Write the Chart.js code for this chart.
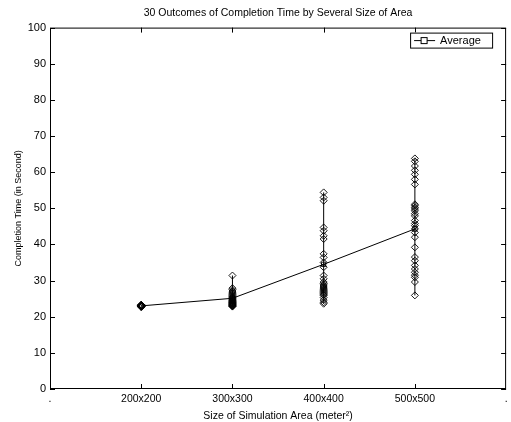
<!DOCTYPE html>
<html>
<head>
<meta charset="utf-8">
<script src="https://cdn.jsdelivr.net/npm/chart.js@4"></script>
<style>
    body { margin: 0; background: #fff; }
    #wrap { width: 511px; height: 422px; }
</style>
</head>
<body>
<div id="wrap"><canvas id="chart"></canvas></div>
<script>
// area sizes on the x axis
const categories = ["200x200", "300x300", "400x400", "500x500"];

// 30 outcomes per area
const outcomes200 = [23.1, 22.8, 23.0, 22.9, 23.2, 22.7, 23.0, 23.1, 22.9, 23.3, 22.8, 23.0, 23.1, 22.9, 23.0,
    22.8, 23.2, 23.0, 22.9, 23.1, 23.0, 22.7, 23.2, 22.9, 23.0, 23.1, 22.8, 23.0, 23.3, 22.9];
const outcomes300 = [31.4, 27.9, 27.5, 27.1, 26.8, 26.5, 26.2, 25.9, 25.6, 25.4, 25.2, 25.0, 24.8, 24.6, 24.5,
    24.3, 24.2, 24.0, 23.9, 23.8, 23.7, 23.6, 23.5, 23.4, 23.3, 23.2, 23.1, 23.0, 22.9, 22.8];
const outcomes400 = [54.4, 53.0, 52.1, 44.7, 43.8, 42.4, 41.5, 37.4, 36.4, 35.0, 33.7, 31.4, 30.5, 29.6, 29.2,
    28.8, 28.5, 28.2, 27.9, 27.6, 27.3, 27.0, 26.7, 26.4, 26.1, 25.9, 25.3, 24.6, 24.0, 23.6];
const outcomes500 = [63.8, 63.0, 61.7, 60.5, 59.4, 58.0, 56.6, 51.1, 50.7, 50.2, 49.8, 49.3, 48.5, 47.9, 46.6,
    45.8, 45.2, 44.3, 43.3, 42.0, 39.2, 36.5, 35.5, 34.2, 33.2, 32.3, 31.5, 30.9, 29.6, 25.9];

const average = [23.0, 25.1, 34.5, 44.3];

const yTicks = [0, 10, 20, 30, 40, 50, 60, 70, 80, 90, 100];

const FONT = "'Liberation Sans', Arial, sans-serif";

function column(values, i) {
    return values.slice().sort((a, b) => a - b).map((v) => ({ x: i + 1, y: v }));
}

let outcomeSets = [outcomes200, outcomes300, outcomes400, outcomes500].map((vals, i) => ({
    label: "Outcomes " + categories[i],
    data: column(vals, i),
    showLine: true,
    borderColor: "#000",
    borderWidth: 1,
    pointStyle: "rectRot",
    pointRadius: 3.5,
    pointBorderWidth: 0.9,
    pointBorderColor: "#000",
    pointBackgroundColor: "rgba(0,0,0,0)",
}));

// box, inward ticks and legend, matlab style
const framePlugin = {
    id: "frame",
    afterDraw(chart) {
        let ctx = chart.ctx;
        let a = chart.chartArea;
        let xs = chart.scales.x;
        let ys = chart.scales.y;
        ctx.save();
        ctx.strokeStyle = "#000";
        ctx.lineWidth = 1;
        ctx.strokeRect(a.left + 0.5, a.top + 0.5, a.right - a.left - 1, a.bottom - a.top - 1);
        ctx.beginPath();
        yTicks.forEach((v) => {
            let y = Math.round(ys.getPixelForValue(v)) + 0.5;
            ctx.moveTo(a.left, y);
            ctx.lineTo(a.left + 5, y);
            ctx.moveTo(a.right, y);
            ctx.lineTo(a.right - 5, y);
        });
        categories.forEach((c, i) => {
            let x = Math.round(xs.getPixelForValue(i + 1)) + 0.5;
            ctx.moveTo(x, a.bottom);
            ctx.lineTo(x, a.bottom - 5);
            ctx.moveTo(x, a.top);
            ctx.lineTo(x, a.top + 5);
        });
        ctx.stroke();

        // legend
        let lx = a.right - 96, ly = a.top + 5, lw = 82, lh = 15;
        ctx.fillStyle = "#fff";
        ctx.fillRect(lx, ly, lw, lh);
        ctx.strokeRect(lx + 0.5, ly + 0.5, lw, lh);
        let my = ly + lh / 2 + 0.5;
        ctx.beginPath();
        ctx.moveTo(lx + 4, my);
        ctx.lineTo(lx + 25, my);
        ctx.stroke();
        ctx.fillRect(lx + 11, my - 3, 6, 6);
        ctx.strokeRect(lx + 11, my - 3, 6, 6);
        ctx.fillStyle = "#000";
        ctx.font = "11px " + FONT;
        ctx.textBaseline = "middle";
        ctx.fillText(chart.data.datasets[0].label, lx + 30, my);
        ctx.restore();
    },
};

new Chart(document.getElementById("chart"), {
    type: "scatter",
    data: {
        datasets: [
            {
                label: "Average",
                data: average.map((v, i) => ({ x: i + 1, y: v })),
                showLine: true,
                borderColor: "#000",
                borderWidth: 1,
                pointStyle: "rect",
                pointRadius: 3,
                pointBorderWidth: 0.9,
                pointBorderColor: "#000",
                pointBackgroundColor: "rgba(0,0,0,0)",
            },
            ...outcomeSets,
        ],
    },
    options: {
        responsive: true,
        maintainAspectRatio: false,
        animation: false,
        layout: { padding: { left: 0, right: 0, top: 0, bottom: 0 } },
        plugins: {
            legend: { display: false },
            tooltip: { enabled: false },
            title: {
                display: true,
                fullSize: false,
                text: "30 Outcomes of Completion Time by Several Size of Area",
                color: "#000",
                font: { family: FONT, size: 10.5, weight: "normal" },
                padding: { top: 7, bottom: 8 },
            },
        },
        scales: {
            x: {
                type: "linear",
                min: 0,
                max: 5,
                afterFit: (s) => { s.height = 33; },
                afterBuildTicks: (s) => { s.ticks = [0, 1, 2, 3, 4, 5].map((v) => ({ value: v })); },
                grid: { display: false, drawTicks: true, tickLength: 4 },
                border: { display: false },
                ticks: {
                    color: "#000",
                    padding: 0,
                    maxRotation: 0,
                    autoSkip: false,
                    font: { family: FONT, size: 10.5 },
                    callback: (v) => (v >= 1 && v <= 4 ? categories[v - 1] : "."),
                },
                title: {
                    display: true,
                    text: "Size of Simulation Area (meter²)",
                    color: "#000",
                    font: { family: FONT, size: 10.5 },
                    padding: { top: 2, bottom: 0 },
                },
            },
            y: {
                min: 0,
                max: 100,
                afterFit: (s) => { s.width = 50; },
                afterBuildTicks: (s) => { s.ticks = yTicks.map((v) => ({ value: v })); },
                grid: { display: false, drawTicks: false, tickLength: 0 },
                border: { display: false },
                ticks: {
                    color: "#000",
                    padding: 4,
                    font: { family: FONT, size: 11 },
                },
                title: {
                    display: true,
                    text: "Completion Time (in Second)",
                    color: "#000",
                    font: { family: FONT, size: 9 },
                    padding: { top: 13, bottom: 2 },
                },
            },
        },
    },
    plugins: [framePlugin],
});
</script>
</body>
</html>
